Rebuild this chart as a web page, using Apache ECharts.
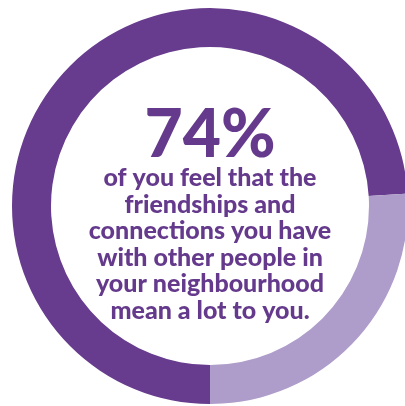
<!DOCTYPE html>
<html><head><meta charset="utf-8">
<script src="https://cdn.jsdelivr.net/npm/echarts@6/dist/echarts.min.js"></script>
<style>html,body{margin:0;padding:0;background:#fff}#c{width:405px;height:406px}</style>
</head><body><div id="c"></div>
<script>
const categories = ['Mean a lot', 'Other'];
const values = [74, 26];
const headline = '74%';
const bodyLines = ['of you feel that the', 'friendships and', 'connections you have', 'with other people in', 'your neighbourhood', 'mean a lot to you.'];
const colors = ['#673b8d', '#ae9cca'];

const chart = echarts.init(document.getElementById('c'));
const cx = 210, cy = 206;
const graphics = [{
  type: 'text', x: cx, y: 136,
  style: { text: headline, fill: '#653a8c', font: '900 66px Lato', textAlign: 'center', textVerticalAlign: 'middle' }
}];
bodyLines.forEach((t, i) => {
  graphics.push({
    type: 'text', x: cx, y: 178 + i * 26.5,
    style: { text: t, fill: '#653a8c', font: '900 25px Lato', textAlign: 'center', textVerticalAlign: 'middle' }
  });
});
chart.setOption({
  animation: false,
  series: [{
    type: 'pie',
    center: [cx, cy],
    radius: [159, 198],
    startAngle: 270,
    clockwise: true,
    label: { show: false },
    labelLine: { show: false },
    emphasis: { disabled: true },
    itemStyle: { borderWidth: 0 },
    data: categories.map((c, i) => ({ name: c, value: values[i], itemStyle: { color: colors[i] } }))
  }],
  graphic: graphics
});
</script></body></html>
